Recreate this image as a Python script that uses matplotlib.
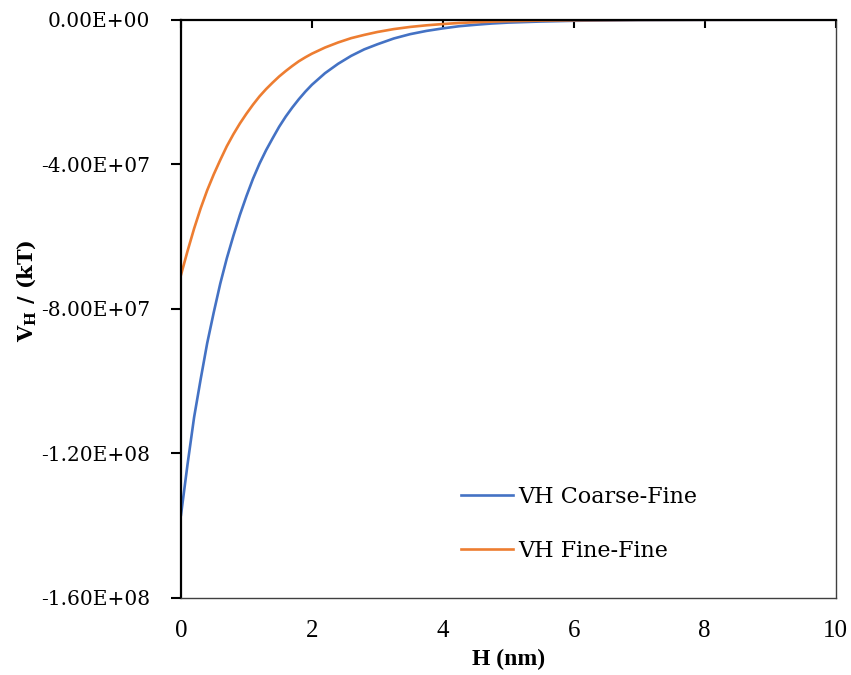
import numpy as np
import matplotlib.pyplot as plt

plt.rcParams['mathtext.fontset'] = 'dejavuserif'

# separation distance (nm)
h_nm = [0, 0.1, 0.2, 0.3, 0.4, 0.5, 0.6, 0.7, 0.8, 0.9, 1.0,
        1.1, 1.2, 1.3, 1.4, 1.5, 1.6, 1.7, 1.8, 1.9, 2.0,
        2.2, 2.4, 2.6, 2.8, 3.0,
        3.25, 3.5, 3.75, 4.0, 4.25, 4.5, 4.75, 5.0, 5.5, 6.0,
        7.0, 8.0, 9.0, 10.0]

# hydration energy, units of 1e7 kT
vh_coarse_fine = [13.70, 12.30, 11.00, 9.95, 8.95, 8.10, 7.30, 6.60, 5.98, 5.40, 4.88,
                  4.40, 3.98, 3.61, 3.28, 2.96, 2.68, 2.43, 2.20, 1.99, 1.80,
                  1.48, 1.22, 1.00, 0.82, 0.68,
                  0.52, 0.40, 0.31, 0.24, 0.18, 0.14, 0.105, 0.08, 0.05, 0.03,
                  0.01, 0.004, 0.0015, 0.0005]
vh_fine_fine = [7.06, 6.40, 5.78, 5.22, 4.72, 4.28, 3.88, 3.50, 3.17, 2.87, 2.60,
                2.35, 2.12, 1.92, 1.74, 1.57, 1.42, 1.28, 1.15, 1.04, 0.94,
                0.77, 0.63, 0.51, 0.42, 0.34,
                0.26, 0.20, 0.155, 0.12, 0.09, 0.07, 0.053, 0.04, 0.025, 0.015,
                0.005, 0.002, 0.0007, 0.0002]

h = np.array(h_nm)
cf = -np.array(vh_coarse_fine) * 1e7
ff = -np.array(vh_fine_fine) * 1e7

fig = plt.figure(figsize=(8.51, 6.75), dpi=100)
ax = fig.add_axes([0.2127, 0.1141, 0.7691, 0.8567])

ax.plot(h, cf, color='#4472C4', lw=1.9, label='VH Coarse-Fine')
ax.plot(h, ff, color='#ED7D31', lw=1.9, label='VH Fine-Fine')

ax.set_xlim(0, 10)
ax.set_ylim(-1.6e8, 0)
ax.set_xticks([0, 2, 4, 6, 8, 10])
ax.set_yticks([0, -4e7, -8e7, -1.2e8, -1.6e8])
ax.set_yticklabels(['0.00E+00', '-4.00E+07', '-8.00E+07', '-1.20E+08', '-1.60E+08'],
                   family='DejaVu Serif', fontsize=14.5)
ax.set_xticklabels(['0', '2', '4', '6', '8', '10'], family='Liberation Serif', fontsize=18)

# excel style: x axis line sits at y=0 (top), labels stay low
ax.tick_params(axis='x', top=True, bottom=False, labeltop=False, labelbottom=True,
               direction='in', length=6, width=1.5, pad=16)
ax.tick_params(axis='y', direction='out', length=7, width=1.5, pad=15)

ax.spines['top'].set_linewidth(1.6)
ax.spines['left'].set_linewidth(1.6)
ax.spines['top'].set_color('black')
ax.spines['left'].set_color('black')
for s in ['right', 'bottom']:
    ax.spines[s].set_linewidth(1.0)
    ax.spines[s].set_color('#404040')

ax.set_xlabel('H (nm)', family='Liberation Serif', fontsize=17, fontweight='bold')
ax.xaxis.set_label_coords(0.5, -0.088)
ax.set_ylabel(r'$\mathbf{V_H}$ / (kT)', family='DejaVu Serif', fontsize=15, fontweight='bold')
ax.yaxis.set_label_coords(-0.219, 0.531)

ax.legend(loc='upper left', bbox_to_anchor=(0.428, 0.194), frameon=False,
          prop={'family': 'DejaVu Serif', 'size': 16}, handlelength=2.35,
          handletextpad=0.2, labelspacing=1.43, borderpad=0, borderaxespad=0)

plt.savefig('out.png', dpi=100)
